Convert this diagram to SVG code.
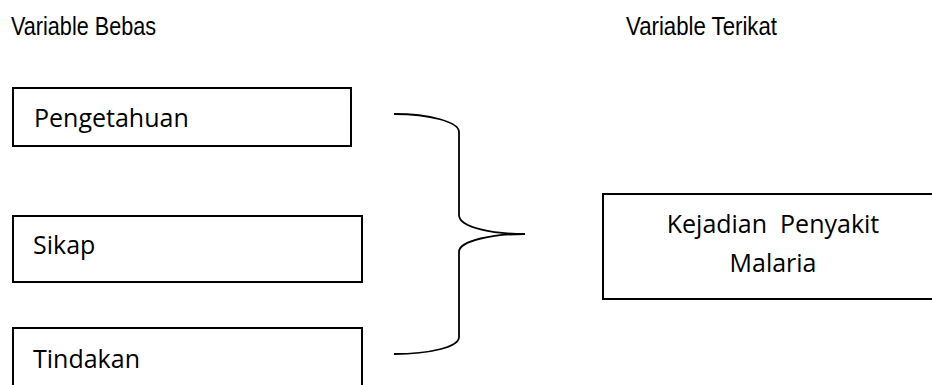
<svg xmlns="http://www.w3.org/2000/svg" width="932" height="385" viewBox="0 0 932 385">
<style>
.box{fill:#fff;stroke:#000;stroke-width:2}
.t{font-family:"Open Sans","Noto Sans",sans-serif;font-size:25px;fill:#000}
.h{font-family:"Liberation Sans",Arial,sans-serif;font-size:25px;fill:#000}
.br{fill:none;stroke:#000;stroke-width:1.8}
</style>
<rect width="932" height="385" fill="#fff"/>
<text class="h" x="11" y="35" textLength="145" lengthAdjust="spacingAndGlyphs">Variable Bebas</text>
<text class="h" x="626" y="35" textLength="151" lengthAdjust="spacingAndGlyphs">Variable Terikat</text>
<g id="n1"><rect class="box" x="13" y="88" width="338" height="58"/><text class="t" x="34" y="127">Pengetahuan</text></g>
<g id="n2"><rect class="box" x="13" y="216" width="349" height="66"/><text class="t" x="33" y="254">Sikap</text></g>
<g id="n3"><rect class="box" x="13" y="328" width="349" height="70"/><text class="t" x="33" y="368">Tindakan</text></g>
<g id="n4"><rect class="box" x="603" y="194" width="340" height="105"/><text class="t" x="773" y="233" text-anchor="middle" xml:space="preserve">Kejadian  Penyakit</text><text class="t" x="773" y="272" text-anchor="middle">Malaria</text></g>
<g id="connectors"><path class="br" d="M394,114 C430,114 459,122 459,132 L459,215 C459,228 495,234 525,234 C495,234 459,240 459,252 L459,337 C459,347 430,354 394,354"/></g>
</svg>
